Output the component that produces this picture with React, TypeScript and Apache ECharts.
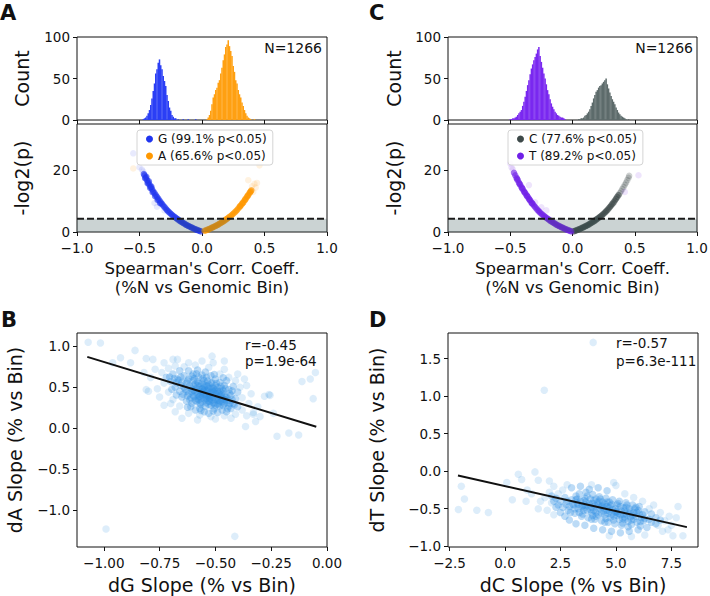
import React, { useEffect, useRef } from "react";
import * as echarts from "echarts";

const FONT = "DejaVu Sans";
const INK = "#111111";

// tick positions
const histTicksX = [-1, -0.5, 0, 0.5, 1];
const histTicksY = [0, 50, 100];
const volTicksY = [0, 20];
const bTicksX = [-1, -0.75, -0.5, -0.25, 0];
const bTicksY = [-1, -0.5, 0, 0.5, 1];
const dTicksX = [-2.5, 0, 2.5, 5, 7.5];
const dTicksY = [-1, -0.5, 0, 0.5, 1, 1.5];

// histograms: [bin centre, count]
const histG = [[-0.47,1],[-0.46,2],[-0.45,3],[-0.44,5],[-0.43,8],[-0.42,12],[-0.41,18],[-0.40,26],[-0.39,35],[-0.38,44],[-0.37,56],[-0.36,61],[-0.35,69],[-0.34,73],[-0.33,66],[-0.32,61],[-0.31,53],[-0.30,47],[-0.29,41],[-0.28,30],[-0.27,23],[-0.26,15],[-0.25,11],[-0.24,6],[-0.23,4],[-0.22,2],[-0.21,2],[-0.19,1],[-0.15,1],[-0.11,1],[-0.05,1]];
const histA = [[0.04,1],[0.05,3],[0.06,6],[0.07,11],[0.08,19],[0.09,27],[0.10,31],[0.11,36],[0.12,39],[0.13,45],[0.14,48],[0.15,56],[0.16,63],[0.17,72],[0.18,79],[0.19,88],[0.20,91],[0.21,96],[0.22,89],[0.23,83],[0.24,77],[0.25,65],[0.26,58],[0.27,48],[0.28,44],[0.29,36],[0.30,31],[0.31,27],[0.32,21],[0.33,17],[0.34,12],[0.35,8],[0.36,5],[0.37,3],[0.38,2],[0.39,1],[0.42,1]];
const histT = [[-0.50,1],[-0.49,1],[-0.48,2],[-0.47,2],[-0.46,3],[-0.45,4],[-0.44,6],[-0.43,8],[-0.42,10],[-0.41,12],[-0.40,17],[-0.39,22],[-0.38,28],[-0.37,35],[-0.36,42],[-0.35,48],[-0.34,55],[-0.33,62],[-0.32,67],[-0.31,72],[-0.30,76],[-0.29,80],[-0.28,85],[-0.27,88],[-0.26,77],[-0.25,70],[-0.24,63],[-0.23,56],[-0.22,50],[-0.21,43],[-0.20,36],[-0.19,31],[-0.18,25],[-0.17,20],[-0.16,16],[-0.15,13],[-0.14,10],[-0.13,8],[-0.12,6],[-0.11,5],[-0.10,4],[-0.09,3],[-0.08,3],[-0.07,2],[-0.06,1]];
const histC = [[0.05,1],[0.06,1],[0.07,2],[0.08,2],[0.09,3],[0.10,5],[0.11,6],[0.12,8],[0.13,10],[0.14,13],[0.15,17],[0.16,21],[0.17,26],[0.18,30],[0.19,34],[0.20,36],[0.21,39],[0.22,41],[0.23,42],[0.24,44],[0.25,46],[0.26,48],[0.27,50],[0.28,43],[0.29,38],[0.30,33],[0.31,29],[0.32,25],[0.33,22],[0.34,19],[0.35,15],[0.36,12],[0.37,9],[0.38,7],[0.39,5],[0.40,4],[0.41,3],[0.42,2],[0.43,1],[0.45,1]];

// volcano points: [Spearman rho, -log2(p)]
const volG = [[-0.01,0.2],[-0.02,0.4],[-0.03,0.5],[-0.04,0.7],[-0.05,0.8],[-0.06,1.0],[-0.07,1.2],[-0.08,1.4],[-0.09,1.6],[-0.10,1.8],[-0.11,2.0],[-0.12,2.2],[-0.13,2.4],[-0.14,2.7],[-0.15,2.9],[-0.16,3.2],[-0.17,3.4],[-0.18,3.7],[-0.19,4.0],[-0.20,4.3],[-0.21,4.6],[-0.22,4.9],[-0.23,5.2],[-0.24,5.6],[-0.25,5.9],[-0.26,6.3],[-0.27,6.7],[-0.28,7.1],[-0.29,7.6],[-0.30,8.1],[-0.31,8.6],[-0.32,9.1],[-0.33,9.6],[-0.34,10.2],[-0.35,10.8],[-0.36,11.4],[-0.37,12.0],[-0.38,12.6],[-0.39,13.2],[-0.40,13.9],[-0.41,14.6],[-0.42,15.3],[-0.43,16.0],[-0.44,16.8],[-0.45,17.6],[-0.46,18.4],[-0.335,9.3],[-0.355,10.4],[-0.375,11.6],[-0.395,12.9],[-0.415,14.3],[-0.435,15.8],[-0.455,17.4],[-0.445,17.9],[-0.425,16.4],[-0.405,14.7],[-0.465,18.8]];
const volGFaint = [[-0.55,25.5],[-0.50,21.0],[-0.48,20.2],[-0.47,19.6],[-0.38,9.4],[-0.36,8.2],[-0.30,7.0]];
const volA = [[0.02,0.4],[0.03,0.5],[0.04,0.7],[0.05,0.8],[0.06,1.0],[0.07,1.2],[0.08,1.4],[0.09,1.6],[0.10,1.8],[0.11,2.0],[0.12,2.2],[0.13,2.4],[0.14,2.7],[0.15,2.9],[0.16,3.2],[0.17,3.4],[0.18,3.7],[0.19,4.0],[0.20,4.3],[0.21,4.6],[0.22,4.9],[0.23,5.2],[0.24,5.6],[0.25,5.9],[0.26,6.3],[0.27,6.7],[0.28,7.1],[0.29,7.6],[0.30,8.1],[0.31,8.6],[0.32,9.1],[0.33,9.6],[0.34,10.2],[0.35,10.8],[0.36,11.4],[0.37,12.0],[0.38,12.6],[0.39,13.2],[0.305,8.4],[0.325,9.4],[0.345,10.5],[0.365,11.7],[0.385,12.9],[0.395,13.5]];
const volAFaint = [[0.40,14.8],[0.42,15.6],[0.44,15.9],[0.37,16.8],[0.46,21.6],[0.41,13.0],[-0.55,20.6],[0.43,14.4]];
const volT = [[-0.01,0.2],[-0.02,0.4],[-0.03,0.5],[-0.04,0.7],[-0.05,0.8],[-0.06,1.0],[-0.07,1.2],[-0.08,1.4],[-0.09,1.6],[-0.10,1.8],[-0.11,2.0],[-0.12,2.2],[-0.13,2.4],[-0.14,2.7],[-0.15,2.9],[-0.16,3.2],[-0.17,3.4],[-0.18,3.7],[-0.19,4.0],[-0.20,4.3],[-0.21,4.6],[-0.22,4.9],[-0.23,5.2],[-0.24,5.6],[-0.25,5.9],[-0.26,6.3],[-0.27,6.7],[-0.28,7.1],[-0.29,7.6],[-0.30,8.1],[-0.31,8.6],[-0.32,9.1],[-0.33,9.6],[-0.34,10.2],[-0.35,10.8],[-0.36,11.4],[-0.37,12.0],[-0.38,12.6],[-0.39,13.2],[-0.40,13.9],[-0.41,14.6],[-0.42,15.3],[-0.43,16.0],[-0.44,16.8],[-0.45,17.6],[-0.46,18.4],[-0.325,9.3],[-0.345,10.5],[-0.365,11.7],[-0.385,12.9],[-0.405,14.2],[-0.425,15.6],[-0.445,17.2],[-0.47,19.2]];
const volTFaint = [[-0.50,22.2],[-0.49,21.0],[-0.48,20.3],[-0.35,15.2],[-0.21,7.0],[0.42,13.0],[0.53,18.4],[-0.30,9.6],[-0.25,8.0]];
const volC = [[0.01,0.2],[0.02,0.4],[0.03,0.5],[0.04,0.7],[0.05,0.8],[0.06,1.0],[0.07,1.2],[0.08,1.4],[0.09,1.6],[0.10,1.8],[0.11,2.0],[0.12,2.2],[0.13,2.4],[0.14,2.7],[0.15,2.9],[0.16,3.2],[0.17,3.4],[0.18,3.7],[0.19,4.0],[0.20,4.3],[0.21,4.6],[0.22,4.9],[0.23,5.2],[0.24,5.6],[0.25,5.9],[0.26,6.3],[0.27,6.7],[0.28,7.1],[0.29,7.6],[0.30,8.1],[0.31,8.6],[0.32,9.1],[0.33,9.6],[0.34,10.2],[0.35,10.8],[0.36,11.4],[0.37,12.0]];
const volCUpper = [[0.38,12.6],[0.39,13.2],[0.40,13.9],[0.41,14.6],[0.42,15.3],[0.43,16.0],[0.44,16.8],[0.45,17.6],[0.455,18.2]];

// slope scatter B: [dG slope, dA slope] — core cloud, then sparse/outlying points
const slopeB = [
[-0.63,0.55],[-0.61,0.49],[-0.60,0.58],[-0.59,0.44],[-0.58,0.52],[-0.57,0.47],[-0.57,0.39],[-0.56,0.55],[-0.56,0.43],[-0.55,0.50],
[-0.55,0.36],[-0.54,0.46],[-0.54,0.40],[-0.53,0.53],[-0.53,0.33],[-0.52,0.44],[-0.52,0.38],[-0.51,0.49],[-0.51,0.31],[-0.50,0.42],
[-0.50,0.35],[-0.49,0.45],[-0.49,0.29],[-0.48,0.39],[-0.48,0.33],[-0.47,0.43],[-0.47,0.36],[-0.46,0.30],[-0.46,0.40],[-0.62,0.42],
[-0.62,0.60],[-0.61,0.37],[-0.60,0.46],[-0.59,0.54],[-0.59,0.34],[-0.58,0.41],[-0.58,0.57],[-0.57,0.30],[-0.57,0.51],[-0.56,0.37],
[-0.56,0.48],[-0.55,0.58],[-0.55,0.41],[-0.54,0.31],[-0.54,0.52],[-0.53,0.42],[-0.53,0.48],[-0.52,0.28],[-0.52,0.55],[-0.51,0.37],
[-0.51,0.44],[-0.50,0.52],[-0.50,0.28],[-0.49,0.38],[-0.49,0.50],[-0.48,0.45],[-0.48,0.27],[-0.47,0.32],[-0.47,0.48],[-0.46,0.35],
[-0.64,0.50],[-0.63,0.45],[-0.60,0.40],[-0.58,0.36],[-0.56,0.32],[-0.55,0.46],[-0.54,0.36],[-0.53,0.38],[-0.52,0.49],[-0.50,0.46],
[-0.60,0.52],[-0.57,0.44],[-0.55,0.53],[-0.53,0.29],[-0.51,0.40],[-0.49,0.34],[-0.45,0.38],[-0.45,0.31],[-0.44,0.34],[-0.44,0.27],
[-0.615,0.515],[-0.605,0.445],[-0.595,0.385],[-0.585,0.485],[-0.575,0.545],[-0.565,0.415],[-0.555,0.475],[-0.545,0.345],[-0.535,0.445],[-0.525,0.405],
[-0.515,0.345],[-0.505,0.475],[-0.495,0.415],[-0.485,0.355],[-0.475,0.405],[-0.465,0.455],[-0.455,0.345],[-0.625,0.575],[-0.635,0.475],[-0.645,0.415],
[-0.585,0.325],[-0.565,0.285],[-0.545,0.265],[-0.525,0.325],[-0.505,0.305],[-0.485,0.305],[-0.465,0.275],[-0.595,0.605],[-0.575,0.625],[-0.555,0.605],
[-0.535,0.575],[-0.515,0.555],[-0.495,0.545],[-0.475,0.515],[-0.455,0.485],[-0.435,0.425],[-0.425,0.345],[-0.615,0.345],[-0.625,0.395],[-0.655,0.525],
[-0.665,0.585],[-0.675,0.555],[-0.655,0.625],[-0.605,0.305],[-0.575,0.345],[-0.545,0.395],[-0.515,0.455],[-0.485,0.425],[-0.455,0.375],[-0.435,0.305],
[-0.605,0.635],[-0.585,0.665],[-0.545,0.685],[-0.505,0.655],[-0.465,0.615],[-0.425,0.455],[-0.415,0.285],[-0.445,0.235],[-0.505,0.235],[-0.565,0.215],
[-0.625,0.255],[-0.675,0.405],[-0.695,0.475],[-0.705,0.625],[-0.685,0.605],[-0.535,0.505],[-0.555,0.445],[-0.575,0.385],[-0.595,0.465],[-0.525,0.365],
[-0.72,0.62],[-0.70,0.57],[-0.69,0.66],[-0.68,0.50],[-0.67,0.60],[-0.66,0.45],[-0.66,0.70],[-0.65,0.56],[-0.65,0.38],[-0.64,0.64],
[-0.63,0.33],[-0.62,0.70],[-0.61,0.26],[-0.60,0.66],[-0.59,0.22],[-0.58,0.71],[-0.57,0.24],[-0.56,0.65],[-0.55,0.20],[-0.54,0.62],
[-0.53,0.18],[-0.52,0.64],[-0.51,0.21],[-0.50,0.60],[-0.49,0.19],[-0.48,0.56],[-0.47,0.22],[-0.46,0.52],[-0.45,0.20],[-0.44,0.47],
[-0.43,0.24],[-0.43,0.40],[-0.42,0.30],[-0.41,0.36],[-0.40,0.26],[-0.40,0.44],[-0.42,0.51],[-0.45,0.58]
];
const slopeBSparse = [
[-0.71,0.73],[-0.73,0.55],[-0.74,0.68],[-0.68,0.76],[-0.64,0.75],[-0.59,0.77],[-0.53,0.74],[-0.48,0.66],[-0.44,0.62],[-0.41,0.58],
[-0.39,0.50],[-0.38,0.37],[-0.38,0.22],[-0.41,0.17],[-0.46,0.15],[-0.52,0.14],[-0.57,0.16],[-0.62,0.18],[-0.66,0.27],[-0.69,0.35],
[-0.71,0.44],[-0.70,0.30],[-0.77,0.72],[-0.79,0.62],[-0.76,0.48],[-0.75,0.38],[-0.73,0.28],[-0.68,0.20],[-0.65,0.12],[-0.58,0.10],
[-0.50,0.11],[-0.43,0.12],[-0.36,0.15],[-0.35,0.30],[-0.34,0.42],[-0.36,0.52],[-0.37,0.60],[-0.40,0.66],[-0.46,0.72],[-0.51,0.80],
[-0.56,0.82],[-0.62,0.80],[-0.67,0.84],[-0.73,0.80],[-0.81,0.47],[-0.82,0.68],[-0.33,0.19],[-0.31,0.26],[-0.30,0.14],[-0.28,0.39],
[-0.26,0.41],[-0.32,0.08],[-1.07,1.05],[-1.015,1.04],[-0.925,0.86],[-0.86,0.95],[-0.88,0.80],[-0.81,0.85],[-0.78,0.84],[-0.69,0.84],
[-0.515,0.88],[-0.46,0.82],[-0.99,-1.235],[-0.413,-1.325],[-0.365,0.02],[-0.33,0.17],[-0.224,-0.10],[-0.171,-0.06],[-0.127,-0.085],[-0.112,0.57],
[-0.075,0.60],[-0.052,0.68],[-0.062,0.36],[-0.255,0.40],[-0.24,0.18],[-0.80,0.45],[-0.96,0.80]
];
const fitB = [[-1.074, 0.871], [-0.048, 0.016]];

// slope scatter D: [dC slope, dT slope] — core cloud, then sparse/outlying points
const slopeD = [
[3.0,-0.38],[3.1,-0.45],[3.2,-0.33],[3.3,-0.50],[3.4,-0.40],[3.5,-0.46],[3.6,-0.36],[3.7,-0.52],[3.8,-0.43],[3.9,-0.48],
[4.0,-0.39],[4.1,-0.55],[4.2,-0.45],[4.3,-0.50],[4.4,-0.41],[4.5,-0.58],[4.6,-0.47],[4.7,-0.53],[4.8,-0.44],[4.9,-0.60],
[5.0,-0.50],[5.1,-0.56],[5.2,-0.47],[5.3,-0.63],[5.4,-0.53],[5.5,-0.58],[5.6,-0.50],[5.7,-0.65],[5.8,-0.55],[5.9,-0.60],
[6.0,-0.52],[6.1,-0.67],[6.2,-0.58],[6.3,-0.63],[3.15,-0.56],[3.45,-0.60],[3.75,-0.62],[4.05,-0.64],[4.35,-0.66],[4.65,-0.68],
[4.95,-0.70],[5.25,-0.72],[5.55,-0.74],[3.35,-0.30],[3.65,-0.28],[3.95,-0.31],[4.25,-0.34],[4.55,-0.36],[4.85,-0.38],[5.15,-0.40],
[5.45,-0.42],[5.75,-0.45],[6.05,-0.47],[3.25,-0.42],[3.55,-0.52],[3.85,-0.37],[4.15,-0.49],[4.45,-0.53],[4.75,-0.62],[5.05,-0.45],
[5.35,-0.57],[5.65,-0.54],[5.95,-0.68],[2.9,-0.47],[2.8,-0.40],[2.7,-0.35],[2.95,-0.55],[4.5,-0.44],[4.2,-0.58],[3.9,-0.55],
[3.3,-0.44],[3.6,-0.48],[3.95,-0.43],[4.35,-0.47],[4.7,-0.49],[5.05,-0.54],[5.4,-0.61],[5.8,-0.64],[4.1,-0.37],[4.6,-0.41],
[3.05,-0.44],[3.25,-0.37],[3.45,-0.47],[3.65,-0.41],[3.85,-0.51],[4.05,-0.46],[4.25,-0.40],[4.45,-0.49],[4.65,-0.56],[4.85,-0.51],
[5.05,-0.59],[5.25,-0.53],[5.45,-0.48],[5.65,-0.61],[5.85,-0.50],[6.05,-0.57],[6.25,-0.66],[3.15,-0.50],[3.35,-0.55],[3.55,-0.39],
[3.75,-0.46],[3.95,-0.59],[4.15,-0.42],[4.35,-0.56],[4.55,-0.63],[4.75,-0.46],[4.95,-0.54],[5.15,-0.64],[5.35,-0.49],[5.55,-0.67],
[5.75,-0.59],[5.95,-0.55],[6.15,-0.62],[3.5,-0.57],[3.7,-0.33],[3.9,-0.64],[4.1,-0.60],[4.3,-0.37],[4.5,-0.68],[4.7,-0.41],
[4.9,-0.65],[5.1,-0.43],[5.3,-0.69],[5.5,-0.45],[5.7,-0.71],[5.9,-0.48],[6.1,-0.73],[6.3,-0.54],[2.85,-0.52],[2.75,-0.44],
[2.6,-0.48],[2.5,-0.40],[2.4,-0.45],[2.3,-0.36],[2.2,-0.40],[2.1,-0.33],[6.5,-0.64],[6.6,-0.57],[6.8,-0.70],[7.0,-0.65],
[4.0,-0.52],[4.4,-0.46],[4.8,-0.57],[5.2,-0.58],[5.6,-0.56],[3.6,-0.45],[3.2,-0.38],[4.6,-0.52],[5.0,-0.55],[5.4,-0.64],
[2.3,-0.48],[2.5,-0.55],[2.7,-0.60],[2.9,-0.65],[3.2,-0.70],[3.6,-0.72],[4.0,-0.76],[4.4,-0.78],[4.8,-0.80],[5.2,-0.82],
[5.6,-0.80],[6.0,-0.78],[6.4,-0.75],[6.6,-0.68],[6.8,-0.62],[3.0,-0.22],[3.4,-0.20],[3.8,-0.24],[4.2,-0.22],[4.6,-0.26]
];
const slopeDSparse = [
[1.6,-0.40],[1.8,-0.35],[2.0,-0.28],[2.1,-0.42],[2.2,-0.20],[2.4,-0.30],[2.6,-0.25],[2.8,-0.18],[5.0,-0.19],[5.4,-0.30],
[5.8,-0.35],[6.2,-0.40],[6.5,-0.50],[6.7,-0.45],[6.9,-0.72],[7.0,-0.55],[7.1,-0.80],[7.2,-0.66],[4.9,-0.15],[3.9,-0.18],
[1.5,-0.50],[1.9,-0.52],[2.2,-0.58],[6.3,-0.85],[5.7,-0.87],[4.7,-0.86],[7.4,-0.60],[7.5,-0.72],[2.0,-0.13],[1.2,-0.30],
[3.975,1.715],[1.77,1.077],[-2.10,-0.51],[-1.97,-0.20],[-1.83,-0.37],[-1.27,-0.52],[-0.75,-0.55],[0.08,-0.15],[0.33,-0.38],[0.60,-0.04],
[1.35,-0.01],[0.75,-0.11],[7.8,-0.47],[7.72,-0.62],[7.57,-0.86],[8.02,-0.86],[7.35,-0.78],[1.0,-0.25],[0.95,-0.40],[1.5,-0.12]
];
const fitD = [[-2.12, -0.057], [8.2, -0.745]];

const SIG = -Math.log2(0.05);

const fmt = (d: number) => (v: number) => (v < 0 ? "\u2212" : "") + Math.abs(v).toFixed(d);

const nameStyle = (size: number) => ({ fontSize: size, fontFamily: FONT, color: INK, lineHeight: size * 1.15 });

function axis(gridIndex: number, min: number, max: number, ticks: number[], dec: number, showLabel: boolean, margin: number, extra: any = {}) {
  return {
    type: "value",
    gridIndex,
    min,
    max,
    axisLine: { show: false, onZero: false },
    splitLine: { show: false },
    axisTick: { show: true, length: 4, lineStyle: { color: INK, width: 1 }, customValues: ticks },
    axisLabel: { show: showLabel, customValues: ticks, formatter: fmt(dec), fontSize: 13.5, fontFamily: FONT, color: INK, margin },
    ...extra,
  };
}

const gridStyle = { show: true, borderColor: INK, borderWidth: 1, backgroundColor: "transparent", containLabel: false, outerBoundsMode: "none" };

function withFaint(dense: number[][], faint: number[][], faintOpacity: number) {
  return [
    ...dense.map((p) => ({ value: p })),
    ...faint.map((p) => ({ value: p, itemStyle: { opacity: faintOpacity } })),
  ];
}

function threshold(idx: number) {
  return {
    type: "line",
    xAxisIndex: idx,
    yAxisIndex: idx,
    data: [[-1, SIG], [1, SIG]],
    showSymbol: false,
    symbol: "none",
    silent: true,
    z: 10,
    lineStyle: { color: "#1a1a1a", width: 2, type: [7, 3] },
    areaStyle: { color: "rgba(47,79,79,0.36)", origin: "start" },
  };
}

function legendBox(left: number, names: string[]) {
  return {
    data: names,
    left,
    top: 130,
    orient: "vertical",
    icon: "circle",
    itemWidth: 7,
    itemHeight: 7,
    itemGap: 3,
    padding: [2, 6, 2, 9],
    borderColor: "#d4d4d4",
    borderWidth: 1,
    borderRadius: 3,
    backgroundColor: "rgba(255,255,255,0.85)",
    selectedMode: false,
    itemStyle: { opacity: 1 },
    textStyle: { fontSize: 12, fontFamily: FONT, color: INK, lineHeight: 14 },
  };
}

const txt = (x: number, y: number, text: string, size: number, align = "left", bold = false) => ({
  type: "text",
  x,
  y,
  silent: true,
  style: {
    text,
    fontSize: size,
    fontFamily: FONT,
    fontWeight: bold ? "bold" : "normal",
    fill: INK,
    textAlign: align,
    align,
    textVerticalAlign: "middle",
    verticalAlign: "middle",
  },
});

const option: any = {
  animation: false,
  backgroundColor: "#ffffff",
  textStyle: { fontFamily: FONT },
  grid: [
    { left: 77, top: 37, width: 250, height: 83, ...gridStyle },
    { left: 77, top: 124, width: 250, height: 108, ...gridStyle },
    { left: 448, top: 37, width: 249, height: 83, ...gridStyle },
    { left: 448, top: 124, width: 249, height: 108, ...gridStyle },
    { left: 77, top: 333, width: 250, height: 214, ...gridStyle },
    { left: 448, top: 333, width: 250, height: 214, ...gridStyle },
  ],
  xAxis: [
    axis(0, -1, 1, histTicksX, 1, false, 9),
    axis(1, -1, 1, histTicksX, 1, true, 9, {
      name: "Spearman's Corr. Coeff.\n(%N vs Genomic Bin)", nameLocation: "middle", nameGap: 27, nameTextStyle: nameStyle(16.5),
    }),
    axis(2, -1, 1, histTicksX, 1, false, 9),
    axis(3, -1, 1, histTicksX, 1, true, 9, {
      name: "Spearman's Corr. Coeff.\n(%N vs Genomic Bin)", nameLocation: "middle", nameGap: 27, nameTextStyle: nameStyle(16.5),
    }),
    axis(4, -1.12, 0.0, bTicksX, 2, true, 9, {
      name: "dG Slope (% vs Bin)", nameLocation: "middle", nameGap: 27, nameTextStyle: nameStyle(19),
    }),
    axis(5, -2.57, 8.7, dTicksX, 1, true, 9, {
      name: "dC Slope (% vs Bin)", nameLocation: "middle", nameGap: 27, nameTextStyle: nameStyle(19),
    }),
  ],
  yAxis: [
    axis(0, 0, 100, histTicksY, 0, true, 7, { name: "Count", nameLocation: "middle", nameGap: 44, nameTextStyle: nameStyle(19) }),
    axis(1, 0, 35, volTicksY, 0, true, 7, { name: "-log2(p)", nameLocation: "middle", nameGap: 44, nameTextStyle: nameStyle(19) }),
    axis(2, 0, 100, histTicksY, 0, true, 7, { name: "Count", nameLocation: "middle", nameGap: 43, nameTextStyle: nameStyle(19) }),
    axis(3, 0, 35, volTicksY, 0, true, 7, { name: "-log2(p)", nameLocation: "middle", nameGap: 43, nameTextStyle: nameStyle(19) }),
    axis(4, -1.455, 1.163, bTicksY, 1, true, 7, { name: "dA Slope (% vs Bin)", nameLocation: "middle", nameGap: 51, nameTextStyle: nameStyle(19) }),
    axis(5, -1.01, 1.84, dTicksY, 1, true, 7, { name: "dT Slope (% vs Bin)", nameLocation: "middle", nameGap: 60, nameTextStyle: nameStyle(19) }),
  ],
  legend: [
    legendBox(137, ["G (99.1% p<0.05)", "A (65.6% p<0.05)"]),
    legendBox(508, ["C (77.6% p<0.05)", "T (89.2% p<0.05)"]),
  ],
  series: [
    { type: "bar", name: "G hist", xAxisIndex: 0, yAxisIndex: 0, data: histG, barWidth: 1.5, barGap: "-100%", itemStyle: { color: "#2b3ff5" }, silent: true },
    { type: "bar", name: "A hist", xAxisIndex: 0, yAxisIndex: 0, data: histA, barWidth: 1.5, barGap: "-100%", itemStyle: { color: "#ffa012" }, silent: true },
    { type: "bar", name: "T hist", xAxisIndex: 2, yAxisIndex: 2, data: histT, barWidth: 1.5, barGap: "-100%", itemStyle: { color: "#7a28f0" }, silent: true },
    { type: "bar", name: "C hist", xAxisIndex: 2, yAxisIndex: 2, data: histC, barWidth: 1.5, barGap: "-100%", itemStyle: { color: "#5d6b6b" }, silent: true },

    { type: "scatter", name: "G (99.1% p<0.05)", xAxisIndex: 1, yAxisIndex: 1, symbolSize: 6.5, data: withFaint(volG, volGFaint, 0.1), itemStyle: { color: "#2035ef", opacity: 0.6 }, silent: true },
    { type: "scatter", name: "A (65.6% p<0.05)", xAxisIndex: 1, yAxisIndex: 1, symbolSize: 6.5, data: withFaint(volA, volAFaint, 0.12), itemStyle: { color: "#ff9800", opacity: 0.6 }, silent: true },
    threshold(1),

    { type: "scatter", name: "C (77.6% p<0.05)", xAxisIndex: 3, yAxisIndex: 3, symbolSize: 6.5, data: withFaint(volC, volCUpper, 0.25), itemStyle: { color: "#3d4949", opacity: 0.6 }, silent: true },
    { type: "scatter", name: "T (89.2% p<0.05)", xAxisIndex: 3, yAxisIndex: 3, symbolSize: 6.5, data: withFaint(volT, volTFaint, 0.12), itemStyle: { color: "#7020e8", opacity: 0.6 }, silent: true },
    threshold(3),

    { type: "scatter", name: "B points", xAxisIndex: 4, yAxisIndex: 4, symbolSize: 7.5, data: withFaint(slopeB, slopeBSparse, 0.16), itemStyle: { color: "#2e90e3", opacity: 0.32 }, silent: true },
    { type: "line", name: "B fit", xAxisIndex: 4, yAxisIndex: 4, data: fitB, showSymbol: false, symbol: "none", z: 5, lineStyle: { color: "#111", width: 2 }, silent: true },
    { type: "scatter", name: "D points", xAxisIndex: 5, yAxisIndex: 5, symbolSize: 7.5, data: withFaint(slopeD, slopeDSparse, 0.16), itemStyle: { color: "#2e90e3", opacity: 0.32 }, silent: true },
    { type: "line", name: "D fit", xAxisIndex: 5, yAxisIndex: 5, data: fitD, showSymbol: false, symbol: "none", z: 5, lineStyle: { color: "#111", width: 2 }, silent: true },
  ],
  graphic: [
    txt(0, 13, "A", 21, "left", true),
    txt(369, 13, "C", 21, "left", true),
    txt(1, 320, "B", 21, "left", true),
    txt(369, 320, "D", 21, "left", true),
    txt(322, 48, "N=1266", 14, "right"),
    txt(693, 48, "N=1266", 14, "right"),
    txt(245, 345, "r=-0.45", 13.5),
    txt(245, 361, "p=1.9e-64", 13.5),
    txt(616, 343, "r=-0.57", 13.5),
    txt(616, 361, "p=6.3e-111", 13.5),
  ],
};

export default function App() {
  const ref = useRef<HTMLDivElement>(null);
  useEffect(() => {
    const chart = echarts.init(ref.current!, null, { renderer: "svg" });
    chart.setOption(option);
    return () => chart.dispose();
  }, []);
  return (
    <div
      ref={ref}
      style={{ position: "fixed", left: 0, top: 0, width: 710, height: 596, background: "#ffffff" }}
    />
  );
}
